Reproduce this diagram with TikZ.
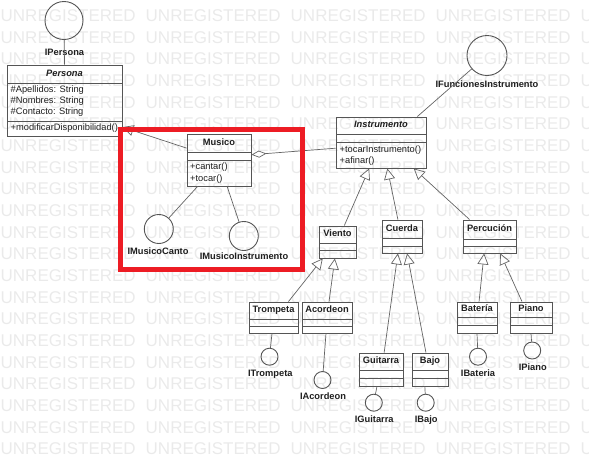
\documentclass[tikz,border=0pt]{standalone}
\usepackage{fontspec}
\setmainfont{Liberation Sans}
\usetikzlibrary{arrows.meta,calc,fit}
\definecolor{wmgray}{RGB}{234,234,234}
\definecolor{boxline}{RGB}{85,85,85}
\definecolor{connline}{RGB}{100,100,100}
\definecolor{txt}{RGB}{30,30,30}
\definecolor{hired}{RGB}{237,28,36}
\tikzset{
  wm/.style={inner sep=0pt, text=wmgray, font=\fontsize{17}{17}\selectfont, anchor=west},
  classbox/.style={draw=boxline, line width=0.9pt, inner sep=0pt, rectangle},
  classline/.style={draw=boxline, line width=0.9pt},
  classname/.style={inner sep=0pt, text=txt, font=\fontsize{9.3}{11}\selectfont\bfseries, text height=6.7pt, text depth=1.9pt},
  member/.style={inner sep=0pt, text=txt, font=\fontsize{9.3}{11}\selectfont, text height=6.7pt, text depth=1.9pt, anchor=west},
  ilabel/.style={inner sep=0pt, text=txt, font=\fontsize{9.3}{11}\selectfont\bfseries, text height=6.7pt, text depth=1.9pt},
  iface/.style={circle, draw=boxline, line width=0.9pt, inner sep=0pt},
  conn/.style={draw=connline, line width=0.7pt},
  gen/.style={conn, -{Triangle[open, length=11pt, width=11pt]}},
  agg/.style={conn, -{Diamond[open, length=15pt, width=7pt]}},
  redbox/.style={draw=hired, line width=5pt}
}
\newcommand{\umlclass}[8]{%
  \node[classbox, fit={(#2,#3)(#4,#5)}] (#1) {};
  \draw[classline] (#2,#6) -- (#4,#6);
  \draw[classline] (#2,#7) -- (#4,#7);
  \node[classname] (#1-name) at ({(#2+#4)/2},{(#3+#6)/2}) {#8};
}
\begin{document}
\begin{tikzpicture}[x=1pt,y=-1pt]
\useasboundingbox (0,0) rectangle (589,458);
% watermark
\foreach \r in {0,...,20}{
  \foreach \c in {0,...,4}{
    \node[wm] (wm-\r-\c) at ({0.5+145*\c},{15.7+21.67*\r}) {UNREGISTERED};
  }
}
% classes
\umlclass{persona}{7}{65}{122}{136}{83}{121}{\itshape Persona}
\node[member] (persona-a1) at (10.5,90) {\#Apellidos: String};
\node[member] (persona-a2) at (10.5,101) {\#Nombres: String};
\node[member] (persona-a3) at (10.5,112) {\#Contacto: String};
\node[member] (persona-m1) at (10.5,128.5) {+modificarDisponibilidad()};

\umlclass{musico}{187}{134}{251}{186}{152}{160}{Musico}
\node[member] (musico-m1) at (190,167.5) {+cantar()};
\node[member] (musico-m2) at (190,179) {+tocar()};

\umlclass{instr}{336}{117}{426}{168}{134}{142}{\itshape Instrumento}
\node[member] (instr-m1) at (339.5,150) {+tocarInstrumento()};
\node[member] (instr-m2) at (339.5,161) {+afinar()};

\umlclass{viento}{319}{226}{356}{258}{243}{250}{Viento}
\umlclass{cuerda}{382}{220}{422}{253}{238}{246}{Cuerda}
\umlclass{percucion}{463}{220}{516}{253}{239}{246}{Percución}
\umlclass{trompeta}{249}{302}{298}{333}{319}{326}{Trompeta}
\umlclass{acordeon}{302}{302}{352}{333}{319}{326}{Acordeon}
\umlclass{guitarra}{359}{353}{403}{386}{370}{378}{Guitarra}
\umlclass{bajo}{412}{353}{448}{386}{370}{378}{Bajo}
\umlclass{bateria}{457}{302}{497}{333}{317}{325}{Batería}
\umlclass{piano}{510}{302}{552}{333}{317}{325}{Piano}

% interfaces
\node[iface, minimum size=38pt] (ipersona) at (64,20.5) {};
\node[ilabel] (ipersona-l) at (64.5,52.7) {IPersona};
\node[iface, minimum size=40pt] (ifunc) at (487,55.5) {};
\node[ilabel] (ifunc-l) at (487,85) {IFuncionesInstrumento};
\node[iface, minimum size=29pt] (imc) at (158.8,229) {};
\node[ilabel] (imc-l) at (158,252.3) {IMusicoCanto};
\node[iface, minimum size=29pt] (imi) at (243.8,236) {};
\node[ilabel] (imi-l) at (244,257.3) {IMusicoInstrumento};
\node[iface, minimum size=17pt] (itrompeta) at (269.5,356.7) {};
\node[ilabel] (itrompeta-l) at (270.3,374) {ITrompeta};
\node[iface, minimum size=17pt] (iacordeon) at (322.5,380) {};
\node[ilabel] (iacordeon-l) at (323,396.7) {IAcordeon};
\node[iface, minimum size=17pt] (iguitarra) at (373.8,402.7) {};
\node[ilabel] (iguitarra-l) at (374.2,420) {IGuitarra};
\node[iface, minimum size=17pt] (ibajo) at (425.7,402.7) {};
\node[ilabel] (ibajo-l) at (426.2,420) {IBajo};
\node[iface, minimum size=17pt] (ibateria) at (478,356.7) {};
\node[ilabel] (ibateria-l) at (478,374) {IBateria};
\node[iface, minimum size=17pt] (ipiano) at (532.2,350.5) {};
\node[ilabel] (ipiano-l) at (532.8,368.3) {IPiano};

% lollipop connectors
\draw[conn] (ipersona) -- (persona.north);
\draw[conn] ($(instr.north west)!0.9!(instr.north east)$) -- (ifunc);
\draw[conn] ($(musico.south west)!0.17!(musico.south east)$) -- (imc);
\draw[conn] ($(musico.south west)!0.625!(musico.south east)$) -- (imi);
\draw[conn] ($(trompeta.south west)!0.47!(trompeta.south east)$) -- (itrompeta);
\draw[conn] ($(acordeon.south west)!0.48!(acordeon.south east)$) -- (iacordeon);
\draw[conn] ($(guitarra.south west)!0.41!(guitarra.south east)$) -- (iguitarra);
\draw[conn] ($(bajo.south west)!0.36!(bajo.south east)$) -- (ibajo);
\draw[conn] ($(bateria.south west)!0.5!(bateria.south east)$) -- (ibateria);
\draw[conn] ($(piano.south west)!0.5!(piano.south east)$) -- (ipiano);

% generalizations
\draw[gen] ($(musico.north west)!0.275!(musico.south west)$) -- ($(persona.north east)!0.87!(persona.south east)$);
\draw[gen] ($(viento.north west)!0.68!(viento.north east)$) -- ($(instr.south west)!0.37!(instr.south east)$);
\draw[gen] ($(cuerda.north west)!0.4!(cuerda.north east)$) -- ($(instr.south west)!0.57!(instr.south east)$);
\draw[gen] ($(percucion.north west)!0.13!(percucion.north east)$) -- ($(instr.south west)!0.86!(instr.south east)$);
\draw[gen] ($(trompeta.north west)!0.8!(trompeta.north east)$) -- ($(viento.south west)!0.11!(viento.south east)$);
\draw[gen] ($(acordeon.north west)!0.54!(acordeon.north east)$) -- ($(viento.south west)!0.43!(viento.south east)$);
\draw[gen] ($(guitarra.north west)!0.57!(guitarra.north east)$) -- ($(cuerda.south west)!0.4!(cuerda.south east)$);
\draw[gen] ($(bajo.north west)!0.39!(bajo.north east)$) -- ($(cuerda.south west)!0.625!(cuerda.south east)$);
\draw[gen] ($(bateria.north west)!0.55!(bateria.north east)$) -- ($(percucion.south west)!0.4!(percucion.south east)$);
\draw[gen] ($(piano.north west)!0.29!(piano.north east)$) -- ($(percucion.south west)!0.7!(percucion.south east)$);

% aggregation
\draw[agg] ($(instr.north west)!0.61!(instr.south west)$) -- ($(musico.north east)!0.40!(musico.south east)$);

% highlight
\draw[redbox] (120,129) rectangle (302.5,269);
\end{tikzpicture}
\end{document}
